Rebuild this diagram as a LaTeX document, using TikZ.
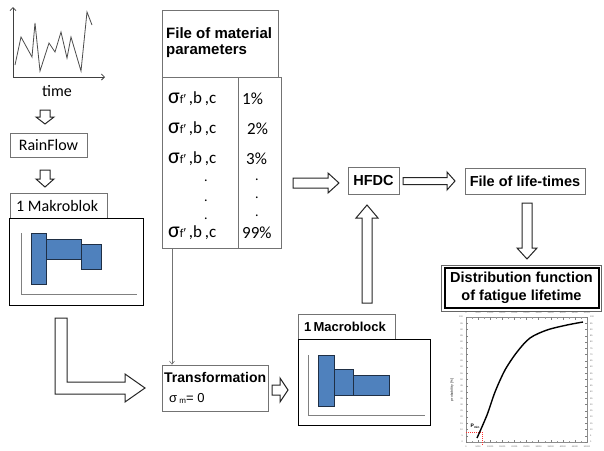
\documentclass[tikz,border=0pt]{standalone}
\usepackage{fontspec}
\setmainfont{Carlito}
\newfontfamily\arial{Liberation Sans}
\usetikzlibrary{arrows.meta,calc}
\definecolor{barblue}{HTML}{4F81BD}
\definecolor{bardark}{HTML}{1F2F45}
\newcommand\arR[6]{\draw[blk] (#1,#3-#4) -- (#2-#6,#3-#4) -- (#2-#6,#3-#5) -- (#2,#3) -- (#2-#6,#3+#5) -- (#2-#6,#3+#4) -- (#1,#3+#4) -- cycle;}
\newcommand\arD[6]{\draw[blk] (#3-#4,#1) -- (#3-#4,#2-#6) -- (#3-#5,#2-#6) -- (#3,#2) -- (#3+#5,#2-#6) -- (#3+#4,#2-#6) -- (#3+#4,#1) -- cycle;}
\newcommand\arU[6]{\draw[blk] (#3-#4,#1) -- (#3-#4,#2+#6) -- (#3-#5,#2+#6) -- (#3,#2) -- (#3+#5,#2+#6) -- (#3+#4,#2+#6) -- (#3+#4,#1) -- cycle;}
\newcommand\sigrow{{\fontsize{22}{22}\selectfont σ}{\fontsize{12}{12}\selectfont f}{\arial\fontsize{13}{13}\selectfont ′}\,,b\,,c}
\begin{document}
\begin{tikzpicture}[x=1pt,y=-1pt,
  box/.style={draw=black!55, line width=0.8pt, inner sep=0},
  bbox/.style={draw=black, line width=1pt, inner sep=0},
  blk/.style={draw=black!85, line width=1pt, fill=white, line join=miter},
  bar/.style={fill=barblue, draw=bardark, line width=0.9pt},
  ax/.style={draw=black!50, line width=0.8pt},
  lbl/.style={inner sep=0, anchor=west},
  cal/.style={inner sep=0, font=\fontsize{16}{18}\selectfont},
  dotn/.style={inner sep=0, anchor=base, font=\fontsize{14}{14}\selectfont},
  tiny/.style={inner sep=0, text=black!60, font=\arial\fontsize{2.2}{2.2}\selectfont},
]
\fill[white] (0,0) rectangle (604,450);
\useasboundingbox (0,0) rectangle (604,450);

% time series
\draw[black!75, line width=0.8pt, -{Straight Barb[length=3pt,width=6pt]}] (13,77) -- (13,7);
\draw[black!75, line width=0.8pt, -{Straight Barb[length=3pt,width=6pt]}] (13,77) -- (105,77);
\draw[black!70, line width=0.8pt] (15,65) -- (21,37) -- (32,57) -- (35,23) -- (40,71) -- (49,43) -- (55,52) -- (61,32) -- (67,58) -- (71,37) -- (81,71) -- (87,12) -- (92,25);
\node[cal] (time) at (57,91) {time};

\arD{110}{124}{45}{5}{9}{7}
\node[box, minimum width=77, minimum height=24] (rf) at (48.5,145) {\fontsize{16}{18}\selectfont RainFlow};
\arD{170}{187}{45}{5}{9}{8}

% Makroblok
\node[box, minimum width=97, minimum height=25] (mtab) at (58.5,205.5) {};
\node[lbl, font=\fontsize{16}{18}\selectfont] (mtabt) at (16,206) {1 Makroblok};
\node[bbox, minimum width=134, minimum height=87] (mbox) at (76,261.5) {};
\draw[ax] (21,233) -- (21,294) -- (137,294);
\draw[bar] (31,233) rectangle (46,284);
\draw[bar] (46,239) rectangle (81,259);
\draw[bar] (81,244) rectangle (101,269);

% L arrow
\draw[blk] (55,318) -- (67,318) -- (67,382) -- (125,382) -- (125,374) -- (145,388) -- (125,402) -- (125,394) -- (55,394) -- cycle;

% material table
\node[box, minimum width=116, minimum height=67] (th) at (220,43.5) {};
\node[lbl, font=\arial\bfseries\fontsize{15}{17}\selectfont] (tht1) at (166,33) {File of material};
\node[lbl, font=\arial\bfseries\fontsize{15}{17}\selectfont] (tht2) at (166,51) {parameters};
\node[box, minimum width=119, minimum height=171] (tb) at (221.5,162.5) {};
\draw[box] (238,77) -- (238,248);
\node[lbl, font=\fontsize{17}{18}\selectfont] (r1) at (168,99) {\sigrow};
\node[lbl, font=\fontsize{17}{18}\selectfont] (r2) at (168,129) {\sigrow};
\node[lbl, font=\fontsize{17}{18}\selectfont] (r3) at (168,159) {\sigrow};
\node[lbl, font=\fontsize{17}{18}\selectfont] (r4) at (168,233) {\sigrow};
\node[lbl, font=\fontsize{17}{18}\selectfont] (p1) at (242,99) {1\%};
\node[lbl, font=\fontsize{17}{18}\selectfont] (p2) at (247,129) {2\%};
\node[lbl, font=\fontsize{17}{18}\selectfont] (p3) at (246,159) {3\%};
\node[lbl, font=\fontsize{17}{18}\selectfont] (p4) at (242,233) {99\%};
\foreach \yy/\nm in {180/a,200/b,218/c} \node[dotn] (dl\nm) at (206,\yy+1.5) {.};
\foreach \yy/\nm in {179/a,197/b,215/c} \node[dotn] (dr\nm) at (257,\yy+1.5) {.};

% HFDC and life-times
\arR{293}{339}{183}{5}{10}{11}
\node[box, minimum width=51, minimum height=27] (hfdc) at (373.5,180.5) {\arial\bfseries\fontsize{14.5}{16}\selectfont HFDC};
\arR{403}{455}{181}{3.5}{9}{8}
\node[box, minimum width=120, minimum height=26] (life) at (525,181) {\arial\bfseries\fontsize{14.5}{16}\selectfont File of life-times};
\arD{203}{259}{527}{5}{10}{11}
\arU{303}{205}{367}{5}{11}{13}

% distribution
\node[draw=black, line width=2pt, minimum width=154, minimum height=40, align=center, inner sep=0, font=\arial\bfseries\fontsize{14.5}{18}\selectfont] (dist) at (521.5,288) {Distribution function\\ of fatigue lifetime};
\draw[black!60, line width=0.5pt] ($(dist.north west)+(-2.2,-2.2)$) rectangle ($(dist.south east)+(2.2,2.2)$);

% chart
\draw[black!45, line width=0.5pt] (466,317) rectangle (587,442);
\foreach \i in {0,...,20} {
  \draw[black!50, line width=0.4pt] (466,442-\i*6.25) -- (468,442-\i*6.25);
  \draw[black!50, line width=0.4pt] (587,442-\i*6.25) -- (585,442-\i*6.25);
  \pgfmathtruncatemacro\v{\i*5}
  \node[tiny, anchor=east] (yl\i) at (463,442-\i*6.25) {\v};
  \node[tiny, anchor=west] (yr\i) at (590,442-\i*6.25) {\v};
}
\foreach \i/\v in {0/0,1/5000,2/10000,3/15000,4/20000,5/25000,6/30000,7/35000,8/40000,9/45000,10/50000} {
  \draw[black!50, line width=0.4pt] (466+\i*12.1,442) -- (466+\i*12.1,439.5);
  \draw[black!50, line width=0.4pt] (466+\i*12.1,317) -- (466+\i*12.1,319.5);
  \node[tiny] (xb\i) at (466+\i*12.1,446.5) {\v};
  \node[tiny] (xt\i) at (466+\i*12.1,313) {\v};
}
\foreach \i in {0,...,9} {
  \draw[black!40, line width=0.3pt] (472.05+\i*12.1,442) -- (472.05+\i*12.1,440.5);
  \draw[black!40, line width=0.3pt] (472.05+\i*12.1,317) -- (472.05+\i*12.1,318.5);
}
\node[rotate=90, inner sep=0, font=\arial\bfseries\fontsize{3.2}{3.2}\selectfont, text=black!70] (ylab) at (452,390) {probability [\%]};
\draw[red!80, line width=0.5pt, dash pattern=on 1pt off 1pt] (466,432) -- (484,432);
\draw[red!80, line width=0.5pt, dash pattern=on 1pt off 1pt] (482,432) -- (482,445);
\node[inner sep=0, font=\arial\bfseries\fontsize{5}{5}\selectfont] (pm) at (475,426) {P\raisebox{-1pt}{\fontsize{3}{3}\selectfont min}};
\draw[line width=1.4pt] plot[smooth] coordinates {(477,438) (487,415) (495,392) (505,370) (517,352) (530,338) (547,330) (567,325) (583,322)};

% transformation
\coordinate (c1) at (172,248);
\node[box, minimum width=106, minimum height=46] (tr) at (215,388) {};
\draw[black!55, line width=0.6pt, -{Straight Barb[length=3pt,width=5pt]}] (c1) -- (c1 |- tr.north);
\node[lbl, font=\arial\bfseries\fontsize{14}{16}\selectfont] (trt) at (164,377) {Transformation};
\node[lbl, font=\arial\fontsize{13}{13}\selectfont] (trs) at (169,398) {σ\,\raisebox{-1pt}{\fontsize{8}{8}\selectfont m}= 0};
\arR{272}{288}{390}{5}{12}{8}

% Macroblock
\node[box, minimum width=97, minimum height=25] (mctab) at (346.5,326.5) {};
\node[lbl, font=\arial\bfseries\fontsize{13}{13}\selectfont] (mctabt) at (304,327) {1\,Macroblock};
\node[bbox, minimum width=132, minimum height=86] (mcbox) at (364,382) {};
\draw[ax] (308,355) -- (308,415) -- (425,415);
\draw[bar] (318,355) rectangle (334,406);
\draw[bar] (334,369) rectangle (353,395);
\draw[bar] (353,375) rectangle (389,395);
\end{tikzpicture}
\end{document}
